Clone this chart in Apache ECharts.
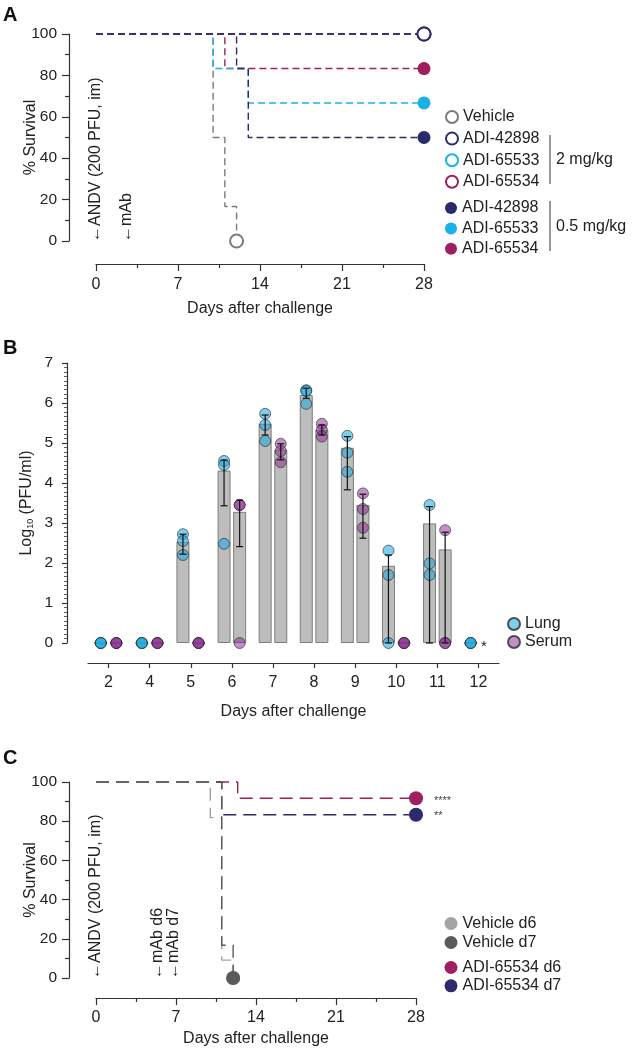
<!DOCTYPE html>
<html>
<head>
<meta charset="utf-8">
<script src="https://cdn.jsdelivr.net/npm/echarts@6/dist/echarts.min.js"></script>
<style>
html,body{margin:0;padding:0;background:#fff;}
#chart{width:632px;height:1050px;}
</style>
</head>
<body>
<div id="chart"></div>
<script>
// ---------- Panel A: survival (Kaplan–Meier) ----------
const A_xTicks = [0, 7, 14, 21, 28];
const A_vehicle_days = [0, 10, 11, 12];
const A_vehicle_surv = [100, 50, 16.7, 0];
const A_42898_2mg_days = [0, 28];
const A_42898_2mg_surv = [100, 100];
const A_65533_2mg_days = [0, 28];
const A_65533_2mg_surv = [100, 100];
const A_65534_2mg_days = [0, 28];
const A_65534_2mg_surv = [100, 100];
const A_42898_05mg_days = [0, 12, 13, 28];
const A_42898_05mg_surv = [100, 83.3, 50, 50];
const A_65533_05mg_days = [0, 10, 13, 28];
const A_65533_05mg_surv = [100, 83.3, 66.7, 66.7];
const A_65534_05mg_days = [0, 11, 28];
const A_65534_05mg_surv = [100, 83.3, 83.3];

// ---------- Panel B: viral titres ----------
const B_days = ['2', '4', '5', '6', '7', '8', '9', '10', '11', '12'];
const B_lungMean  = [0, 0, 2.53, 4.31, 5.48, 6.20, 4.88, 1.93, 2.99, 0];
const B_serumMean = [0, 0, 0, 3.28, 4.83, 5.33, 3.45, 0, 2.34, null];
const B_lungReps = [
  [0, 0, 0], [0, 0, 0], [2.72, 2.55, 2.20], [4.55, 4.45, 2.48], [5.73, 5.45, 5.05],
  [6.32, 6.30, 5.98], [5.18, 4.76, 4.28], [2.31, 1.70, 0], [3.45, 1.99, 1.70], [0, 0, 0]
];
const B_serumReps = [
  [0, 0, 0], [0, 0, 0], [0, 0, 0], [3.45, 3.45, 0], [4.98, 4.80, 4.52],
  [5.48, 5.33, 5.16], [3.74, 3.35, 2.88], [0, 0, 0], [2.82, 0, 0], []
];
const B_lungErr = [null, null, [2.22, 2.72], [3.43, 4.57], [5.20, 5.70], [6.12, 6.37], [3.83, 5.16], [0, 2.20], [0, 3.41], null];
const B_serumErr = [null, null, null, [2.41, 3.57], [4.58, 4.98], [5.20, 5.45], [2.62, 3.72], null, [0, 2.77], null];

// ---------- Panel C: survival, delayed treatment ----------
const C_xTicks = [0, 7, 14, 21, 28];
const C_vehD6_days = [0, 10, 11, 12];
const C_vehD6_surv = [100, 81.8, 9.1, 0];
const C_vehD7_days = [0, 11, 12];
const C_vehD7_surv = [100, 16.7, 0];
const C_65534d6_days = [0, 12.4, 28];
const C_65534d6_surv = [100, 91.7, 91.7];
const C_65534d7_days = [0, 11, 28];
const C_65534d7_surv = [100, 83.3, 83.3];

// ---------- styling ----------
const FONT = '"Liberation Sans", Arial, Helvetica, sans-serif';
const TXT = '#222';
const NAVY = '#2b2a6a', CYAN = '#1cb1e6', MAG = '#a01f60', GRAY = '#7a7a7a';
const LGRAY = '#a3a3a3', DGRAY = '#5a5a5a';

function km(name, days, surv, color, open, axis, dash, size, z) {
  return {
    type: 'line', name: name, xAxisIndex: axis, yAxisIndex: axis, step: 'end',
    data: days.map((d, i) => ({ value: [d, surv[i]], symbol: i === days.length - 1 ? 'circle' : 'none' })),
    showSymbol: true, symbolSize: size, clip: false, animation: false, z: z,
    lineStyle: { color: color, width: 1.4, type: dash },
    itemStyle: open ? { color: '#fff', borderColor: color, borderWidth: 2 } : { color: color, borderColor: color, borderWidth: 0 }
  };
}

const dashA = [7, 4], dashC = [13, 7];
const AX = '#333';

function ax(extra) {
  return Object.assign({
    nameMoveOverlap: false,
    axisLine: { show: true, onZero: false, lineStyle: { color: AX, width: 1.2 } },
    splitLine: { show: false },
    nameTextStyle: { color: TXT, fontFamily: FONT, fontSize: 16 }
  }, extra);
}
function ticks(len) { return { show: true, length: len, lineStyle: { color: AX, width: 1.2 } }; }
function minor(n, len, w) { return { show: true, splitNumber: n, length: len, lineStyle: { color: AX, width: w } }; }
function labels(size, margin, fmt) {
  const o = { show: true, color: TXT, fontFamily: FONT, fontSize: size, margin: margin };
  if (fmt) o.formatter = fmt;
  return o;
}

const errRender = (off) => function (params, api) {
  const c = api.value(0), lo = api.value(1), hi = api.value(2);
  const p1 = api.coord([c, lo]), p2 = api.coord([c, hi]);
  const x = p1[0] + off, w = 3.5;
  const st = { stroke: '#111', lineWidth: 1.2 };
  return { type: 'group', children: [
    { type: 'line', shape: { x1: x, y1: p1[1], x2: x, y2: p2[1] }, style: st },
    { type: 'line', shape: { x1: x - w, y1: p1[1], x2: x + w, y2: p1[1] }, style: st },
    { type: 'line', shape: { x1: x - w, y1: p2[1], x2: x + w, y2: p2[1] }, style: st }
  ]};
};

function repsData(reps) {
  const out = [];
  reps.forEach((arr, i) => arr.forEach(v => out.push([i, v])));
  return out;
}
function errData(err) {
  const out = [];
  err.forEach((e, i) => { if (e) out.push([i, e[0], e[1]]); });
  return out;
}

const OFF = 7.8;
const chart = echarts.init(document.getElementById('chart'), null, { renderer: 'canvas' });

const legendText = { color: TXT, fontFamily: FONT, fontSize: 16, lineHeight: 16 };
const fmt = n => n.split('|')[0];

const option = {
  backgroundColor: '#fff',
  animation: false,
  grid: [
    { left: 96, top: 34, width: 328, height: 207 },
    { left: 88, top: 363, width: 411, height: 280 },
    { left: 96, top: 782, width: 320, height: 196 }
  ],
  xAxis: [
    ax({ gridIndex: 0, type: 'value', min: 0, max: 28, interval: 7, offset: 23,
      axisTick: ticks(7), minorTick: minor(2, 4, 1.2),
      axisLabel: labels(16, 13, v => A_xTicks.includes(v) ? String(v) : ''),
      name: 'Days after challenge', nameLocation: 'middle', nameGap: 37 }),
    ax({ gridIndex: 1, type: 'category', data: B_days, offset: 20,
      axisTick: Object.assign(ticks(5), { alignWithLabel: true }),
      axisLabel: labels(16, 12),
      name: 'Days after challenge', nameLocation: 'middle', nameGap: 41 }),
    ax({ gridIndex: 2, type: 'value', min: 0, max: 28, interval: 7, offset: 20,
      axisTick: ticks(7), minorTick: minor(2, 4, 1.2),
      axisLabel: labels(16, 12, v => C_xTicks.includes(v) ? String(v) : ''),
      name: 'Days after challenge', nameLocation: 'middle', nameGap: 33 })
  ],
  yAxis: [
    ax({ gridIndex: 0, type: 'value', min: 0, max: 100, interval: 20, offset: 27,
      axisTick: ticks(7), minorTick: minor(2, 4, 1.2),
      axisLabel: labels(15.5, 12),
      name: '% Survival', nameLocation: 'middle', nameGap: 30 }),
    ax({ gridIndex: 1, type: 'value', min: 0, max: 7, interval: 1, offset: 21,
      axisTick: ticks(5), minorTick: minor(9, 3, 0.8),
      axisLabel: labels(15.5, 14),
      name: '{a|Log}{s|10}{a| (PFU/ml)}', nameLocation: 'middle', nameGap: 32,
      nameTextStyle: { color: TXT, fontFamily: FONT, fontSize: 16,
        rich: { a: { fontFamily: FONT, fontSize: 16, color: TXT }, s: { fontFamily: FONT, fontSize: 9, color: TXT, verticalAlign: 'bottom', padding: [6, 0, 0, 0] } } } }),
    ax({ gridIndex: 2, type: 'value', min: 0, max: 100, interval: 20, offset: 27,
      axisTick: ticks(7), minorTick: minor(2, 4, 1.2),
      axisLabel: labels(15.5, 12),
      name: '% Survival', nameLocation: 'middle', nameGap: 30 })
  ],
  legend: [
    { orient: 'vertical', left: 440, top: 104, itemWidth: 12, itemHeight: 12, itemGap: 5.6, icon: 'circle',
      textStyle: legendText, formatter: fmt, selectedMode: false,
      data: ['Vehicle', 'ADI-42898|2', 'ADI-65533|2', 'ADI-65534|2'] },
    { orient: 'vertical', left: 440, top: 195, itemWidth: 12, itemHeight: 12, itemGap: 4.4, icon: 'circle',
      textStyle: legendText, formatter: fmt, selectedMode: false,
      data: ['ADI-42898|0.5', 'ADI-65533|0.5', 'ADI-65534|0.5'] },
    { orient: 'vertical', left: 502, top: 611, itemWidth: 12, itemHeight: 12, itemGap: 2, icon: 'circle',
      textStyle: legendText, selectedMode: false, data: ['Lung', 'Serum'] },
    { orient: 'vertical', left: 439.5, top: 910.5, itemWidth: 13, itemHeight: 13, itemGap: 3, icon: 'circle',
      textStyle: legendText, selectedMode: false, data: ['Vehicle d6', 'Vehicle d7'] },
    { orient: 'vertical', left: 439.5, top: 954.5, itemWidth: 13, itemHeight: 13, itemGap: 2.3, icon: 'circle',
      textStyle: legendText, selectedMode: false, data: ['ADI-65534 d6', 'ADI-65534 d7'] }
  ],
  series: [
    // Panel A
    km('Vehicle', A_vehicle_days, A_vehicle_surv, GRAY, true, 0, dashA, 13, 2),
    km('ADI-65534|0.5', A_65534_05mg_days, A_65534_05mg_surv, MAG, false, 0, dashA, 13, 3),
    km('ADI-65533|0.5', A_65533_05mg_days, A_65533_05mg_surv, CYAN, false, 0, dashA, 13, 3),
    km('ADI-42898|0.5', A_42898_05mg_days, A_42898_05mg_surv, NAVY, false, 0, dashA, 13, 3),
    km('ADI-65533|2', A_65533_2mg_days, A_65533_2mg_surv, CYAN, true, 0, dashA, 13, 4),
    km('ADI-65534|2', A_65534_2mg_days, A_65534_2mg_surv, MAG, true, 0, dashA, 13, 4),
    km('ADI-42898|2', A_42898_2mg_days, A_42898_2mg_surv, NAVY, true, 0, dashA, 13, 5),
    // Panel B
    { type: 'bar', name: 'Lung mean', xAxisIndex: 1, yAxisIndex: 1, data: B_lungMean, barWidth: 13, barGap: '20%',
      itemStyle: { color: '#bdbdbd', borderColor: '#7d7d7d', borderWidth: 1 }, z: 2 },
    { type: 'bar', name: 'Serum mean', xAxisIndex: 1, yAxisIndex: 1, data: B_serumMean, barWidth: 13, barGap: '20%',
      itemStyle: { color: '#bdbdbd', borderColor: '#7d7d7d', borderWidth: 1 }, z: 2 },
    { type: 'scatter', name: 'Lung', xAxisIndex: 1, yAxisIndex: 1, data: repsData(B_lungReps), symbolSize: 11,
      symbolOffset: [-OFF, 0], itemStyle: { color: 'rgba(26,168,222,0.7)', borderColor: '#2a2a2a', borderWidth: 0.8 }, z: 3 },
    { type: 'scatter', name: 'Serum', xAxisIndex: 1, yAxisIndex: 1, data: repsData(B_serumReps), symbolSize: 11,
      symbolOffset: [OFF, 0], itemStyle: { color: 'rgba(138,42,146,0.65)', borderColor: '#2a2a2a', borderWidth: 0.8 }, z: 3 },
    { type: 'custom', name: 'Lung SD', xAxisIndex: 1, yAxisIndex: 1, data: errData(B_lungErr), renderItem: errRender(-OFF), z: 4, encode: { x: 0, y: [1, 2] } },
    { type: 'custom', name: 'Serum SD', xAxisIndex: 1, yAxisIndex: 1, data: errData(B_serumErr), renderItem: errRender(OFF), z: 4, encode: { x: 0, y: [1, 2] } },
    // Panel C
    km('ADI-65534 d6', C_65534d6_days, C_65534d6_surv, MAG, false, 2, dashC, 14, 2),
    km('ADI-65534 d7', C_65534d7_days, C_65534d7_surv, NAVY, false, 2, dashC, 14, 2),
    km('Vehicle d6', C_vehD6_days, C_vehD6_surv, LGRAY, false, 2, dashC, 14, 3),
    km('Vehicle d7', C_vehD7_days, C_vehD7_surv, DGRAY, false, 2, dashC, 14, 4)
  ],
  graphic: [
    { type: 'text', left: 3, top: 5, style: { text: 'A', font: 'bold 20px ' + FONT, fill: '#111' } },
    { type: 'text', left: 3, top: 338, style: { text: 'B', font: 'bold 20px ' + FONT, fill: '#111' } },
    { type: 'text', left: 3, top: 748, style: { text: 'C', font: 'bold 20px ' + FONT, fill: '#111' } },
    // Panel A annotations
    { type: 'text', x: 96, y: 242, rotation: Math.PI / 2,
      style: { text: '\u2190ANDV (200 PFU, im)', font: '16px ' + FONT, fill: TXT, textAlign: 'left', textVerticalAlign: 'middle' } },
    { type: 'text', x: 127, y: 242, rotation: Math.PI / 2,
      style: { text: '\u2190mAb', font: '16px ' + FONT, fill: TXT, textAlign: 'left', textVerticalAlign: 'middle' } },
    { type: 'line', shape: { x1: 550, y1: 135, x2: 550, y2: 184 }, style: { stroke: '#333', lineWidth: 1 } },
    { type: 'line', shape: { x1: 550, y1: 201, x2: 550, y2: 251 }, style: { stroke: '#333', lineWidth: 1 } },
    { type: 'text', x: 556, y: 160, style: { text: '2 mg/kg', font: '16px ' + FONT, fill: TXT, textVerticalAlign: 'middle' } },
    { type: 'text', x: 556, y: 227, style: { text: '0.5 mg/kg', font: '16px ' + FONT, fill: TXT, textVerticalAlign: 'middle' } },
    // Panel B asterisk
    { type: 'text', x: 481, y: 647, style: { text: '*', font: '15px ' + FONT, fill: TXT, textVerticalAlign: 'middle' } },
    // Panel C annotations
    { type: 'text', x: 96, y: 979, rotation: Math.PI / 2,
      style: { text: '\u2190ANDV (200 PFU, im)', font: '16px ' + FONT, fill: TXT, textAlign: 'left', textVerticalAlign: 'middle' } },
    { type: 'text', x: 158, y: 979, rotation: Math.PI / 2,
      style: { text: '\u2190mAb d6', font: '16px ' + FONT, fill: TXT, textAlign: 'left', textVerticalAlign: 'middle' } },
    { type: 'text', x: 174, y: 979, rotation: Math.PI / 2,
      style: { text: '\u2190mAb d7', font: '16px ' + FONT, fill: TXT, textAlign: 'left', textVerticalAlign: 'middle' } },
    { type: 'text', x: 434, y: 801, style: { text: '****', font: '11px ' + FONT, fill: '#444', textVerticalAlign: 'middle' } },
    { type: 'text', x: 434, y: 816, style: { text: '**', font: '11px ' + FONT, fill: '#444', textVerticalAlign: 'middle' } }
  ]
};
chart.setOption(option);
</script>
</body>
</html>
